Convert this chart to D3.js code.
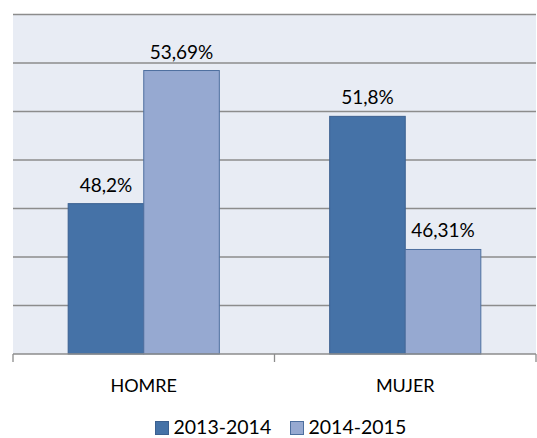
<!DOCTYPE html>
<html><head><meta charset="utf-8">
<script src="https://cdn.jsdelivr.net/npm/d3@7"></script>
<style>body{margin:0;background:#fff}svg{display:block;font-family:Lato,"Open Sans",sans-serif}</style>
</head><body><svg id="c" width="537" height="438"></svg>
<script>
const categories = ["HOMRE", "MUJER"];
const seriesNames = ["2013-2014", "2014-2015"];
const values2013 = [48.2, 51.8];
const values2014 = [53.69, 46.31];
const labels2013 = ["48,2%", "51,8%"];
const labels2014 = ["53,69%", "46,31%"];
const yTicks = [42, 44, 46, 48, 50, 52, 54, 56];

const svg = d3.select("#c");
const m = {l: 13, r: 1, t: 14.5, b: 84};
const W = 537, H = 438;
const x0 = d3.scaleBand().domain(categories).range([m.l, W - m.r]).paddingInner(0).paddingOuter(0);
const x1 = d3.scaleBand().domain(seriesNames).range([0, x0.bandwidth()]).paddingInner(0).paddingOuter(0.73);
const y = d3.scaleLinear().domain([42, 56]).range([H - m.b, m.t]);
const colors = ["#4572a7", "#96a9d1"];
const strokes = ["#3b6090", "#4d6f9f"];

svg.append("rect").attr("x", m.l).attr("y", m.t).attr("width", W - m.r - m.l).attr("height", y(42) - m.t).attr("fill", "#e8ecf4");

svg.append("g").selectAll("line").data(yTicks.slice(1)).join("line")
  .attr("x1", m.l).attr("x2", W - m.r).attr("y1", d => y(d)).attr("y2", d => y(d))
  .attr("stroke", "#8c8c8c").attr("stroke-width", 1.3);

const data = categories.map((c, i) => ({c, vals: [
  {s: seriesNames[0], v: values2013[i], lab: labels2013[i], k: 0},
  {s: seriesNames[1], v: values2014[i], lab: labels2014[i], k: 1}]}));

const g = svg.append("g").selectAll("g").data(data).join("g")
  .attr("transform", d => `translate(${x0(d.c)},0)`);
g.selectAll("rect").data(d => d.vals).join("rect")
  .attr("x", d => x1(d.s)).attr("width", x1.bandwidth())
  .attr("y", d => y(d.v)).attr("height", d => y(42) - y(d.v))
  .attr("fill", d => colors[d.k]).attr("stroke", d => strokes[d.k]).attr("stroke-width", 1);
g.selectAll("text").data(d => d.vals).join("text")
  .attr("x", d => x1(d.s) + x1.bandwidth() / 2).attr("y", d => y(d.v) - 12)
  .attr("text-anchor", "middle").attr("font-size", 19).attr("fill", "#000").text(d => d.lab);

// x axis
const xa = svg.append("g").attr("transform", `translate(0,${y(42)})`);
xa.append("line").attr("x1", m.l).attr("x2", W - m.r).attr("stroke", "#8c8c8c").attr("stroke-width", 1.3);
const tickXs = [x0.range()[0], x0(categories[1]), x0.range()[1]];
xa.selectAll("line.t").data(tickXs).join("line").attr("class", "t")
  .attr("x1", d => d).attr("x2", d => d).attr("y1", 0).attr("y2", 8)
  .attr("stroke", "#8c8c8c").attr("stroke-width", 1.3);
xa.selectAll("text").data(categories).join("text")
  .attr("x", d => x0(d) + x0.bandwidth() / 2).attr("y", 37.5)
  .attr("text-anchor", "middle").attr("font-size", 18).attr("fill", "#000").text(d => d);

// legend
const lg = svg.append("g");
const lx = [155.5, 290.5];
seriesNames.forEach((s, i) => {
  lg.append("rect").attr("x", lx[i]).attr("y", 421.5).attr("width", 13).attr("height", 13)
    .attr("fill", colors[i]).attr("stroke", strokes[i]);
  lg.append("text").attr("x", lx[i] + 18).attr("y", 434).attr("font-size", 19.5).attr("fill", "#000").text(s);
});
</script></body></html>
